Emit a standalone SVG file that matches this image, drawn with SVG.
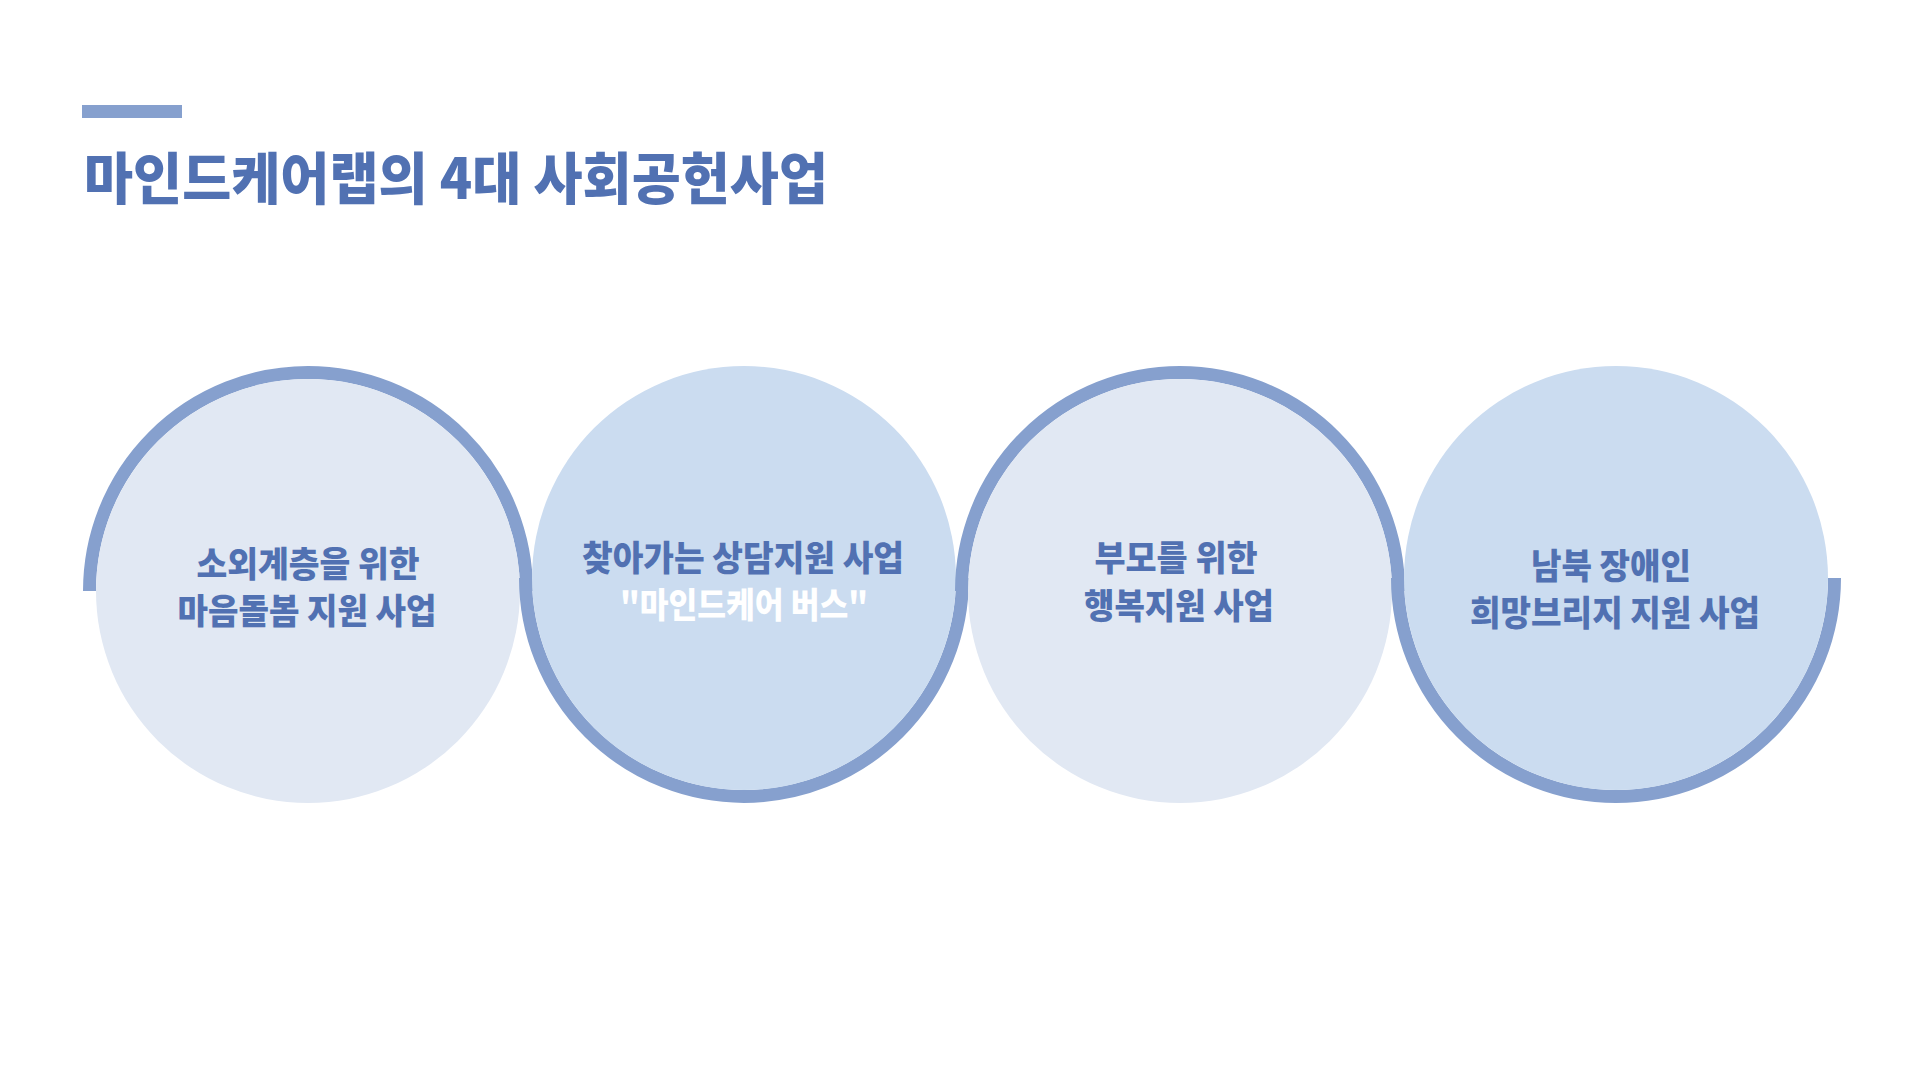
<svg xmlns="http://www.w3.org/2000/svg" width="1920" height="1080" viewBox="0 0 1920 1080">
<style>
.ring{fill:none;stroke:#86A0CE;stroke-width:13}
.f1{fill:#E1E8F3}
.f2{fill:#CBDCF0}
.t{font-family:"Noto Sans CJK KR","Noto Sans",sans-serif;font-weight:900;font-size:35px;fill:#5171B2;text-anchor:middle}
.w{fill:#FFFFFF}
.title{font-family:"Noto Sans CJK KR","Noto Sans",sans-serif;font-weight:900;font-size:56px;fill:#5171B2}
</style>
<rect width="1920" height="1080" fill="#FFFFFF"/>
<g id="header">
<rect x="82" y="105" width="100" height="13" fill="#86A0CE"/>
<text class="title" x="84" y="199" textLength="744" lengthAdjust="spacingAndGlyphs">마인드케어랩의 4대 사회공헌사업</text>
</g>
<g id="node1">
<path class="ring" d="M 89.5 591 A 218.5 218.5 0 0 1 526.5 591"/>
<circle class="f1" cx="308" cy="591" r="212"/>
<text class="t" x="308" y="577" textLength="223" lengthAdjust="spacingAndGlyphs">소외계층을 위한</text>
<text class="t" x="307" y="624" textLength="259" lengthAdjust="spacingAndGlyphs">마음돌봄 지원 사업</text>
</g>
<g id="node2">
<path class="ring" d="M 525.5 578 A 218.5 218.5 0 0 0 962.5 578"/>
<circle class="f2" cx="744" cy="578" r="212"/>
<text class="t" x="743" y="571" textLength="322" lengthAdjust="spacingAndGlyphs">찾아가는 상담지원 사업</text>
<text class="t w" x="744" y="618" textLength="248" lengthAdjust="spacingAndGlyphs">"마인드케어 버스"</text>
</g>
<g id="node3">
<path class="ring" d="M 961.5 591 A 218.5 218.5 0 0 1 1398.5 591"/>
<circle class="f1" cx="1180" cy="591" r="212"/>
<text class="t" x="1176" y="571" textLength="163" lengthAdjust="spacingAndGlyphs">부모를 위한</text>
<text class="t" x="1179" y="619" textLength="190" lengthAdjust="spacingAndGlyphs">행복지원 사업</text>
</g>
<g id="node4">
<path class="ring" d="M 1397.5 578 A 218.5 218.5 0 0 0 1834.5 578"/>
<circle class="f2" cx="1616" cy="578" r="212"/>
<text class="t" x="1611" y="579" textLength="160" lengthAdjust="spacingAndGlyphs">남북 장애인</text>
<text class="t" x="1615" y="626" textLength="290" lengthAdjust="spacingAndGlyphs">희망브리지 지원 사업</text>
</g>
</svg>
